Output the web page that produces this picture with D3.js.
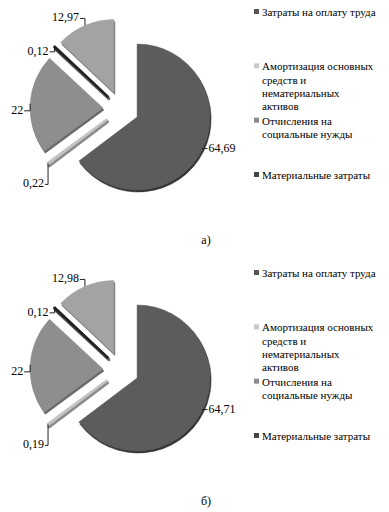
<!DOCTYPE html>
<html>
<head>
<meta charset="utf-8">
<script src="https://cdnjs.cloudflare.com/ajax/libs/d3/7.8.5/d3.min.js"></script>
<style>
body { margin: 0; background: #fff; }
svg { display: block; }
text { font-family: "Liberation Serif", "Times New Roman", serif; font-size: 12px; fill: #000; }
.legend text { font-size: 11px; }
</style>
</head>
<body>
<svg class="chart"></svg>
<script>
var width = 389;
var height = 512;

// legend entries, line breaks as in the source (the fifth slice has no legend entry)
var categories = ["Затраты на оплату труда",
                  "Амортизация основных|средств и|нематериальных|активов",
                  "Отчисления на|социальные нужды",
                  "Материальные затраты"];

// slice values, clockwise from 12 o'clock
var valuesA = [64.69, 0.22, 22, 0.12, 12.97];
var valuesB = [64.71, 0.19, 22, 0.12, 12.98];
var captions = ["а)", "б)"];

// styles
var fills   = ["#5c5c5c", "#c4c4c4", "#8e8e8e", "#222222", "#a3a3a3"];
var shades  = ["#333333", "#8a8a8a", "#666666", "#6a6a6a", "#6e6e6e"];
var legendFills = ["#555555", "#c8c8c8", "#8a8a8a", "#444444"];

// label placement relative to the outer point of each slice: dx, dy, anchor
var labelNudge = [[6, -2, "start"], [-4, 20, "end"], [-7, 6, "end"], [-6, 4, "end"], [-6, -8, "end"]];

var radius = 73;
var explode = 18;

var svg = d3.select(".chart")
    .attr("width", width)
    .attr("height", height);

svg.append("rect").attr("width", width).attr("height", height).attr("fill", "#fff");

function fmt(v) { return String(v).replace(".", ","); }

function make_chart(values, caption, offsetY) {
    var g = svg.append("g").attr("transform", "translate(0," + offsetY + ")");
    var cx = 121, cy = 109;

    var pie = d3.pie().sort(null).value(function(d) { return d; });
    var arc = d3.arc().innerRadius(0).outerRadius(radius);
    var arcs = pie(values);

    function dir(d) {
        var a = (d.startAngle + d.endAngle) / 2;
        return [Math.sin(a), -Math.cos(a)];
    }

    var slices = g.selectAll(".slice")
        .data(arcs)
      .enter().append("g")
        .attr("class", "slice")
        .attr("transform", function(d) {
            var u = dir(d);
            return "translate(" + (cx + explode * u[0]) + "," + (cy + explode * u[1]) + ")";
        });

    // depth edge
    slices.append("path")
        .attr("transform", "translate(1,2)")
        .attr("d", arc)
        .attr("fill", function(d, i) { return shades[i]; })
        .attr("stroke", function(d, i) { return shades[i]; })
        .attr("stroke-width", function(d) { return d.data < 1 ? 3 : 0.5; })
        .attr("stroke-linejoin", "round");

    slices.append("path")
        .attr("d", arc)
        .attr("fill", function(d, i) { return fills[i]; })
        .attr("stroke", function(d, i) { return fills[i]; })
        .attr("stroke-width", function(d) { return d.data < 1 ? 2.5 : 0.5; })
        .attr("stroke-linejoin", "round");

    // data labels with leader lines
    arcs.forEach(function(d, i) {
        var u = dir(d);
        var px = cx + (explode + radius) * u[0];
        var py = cy + (explode + radius) * u[1];
        var n = labelNudge[i];
        var tx = px + n[0], ty = py + n[1];
        var edge = n[2] == "end" ? tx + 1 : tx - 1;
        g.append("polyline")
            .attr("points", [[px, py], [px, ty + 1], [edge, ty + 1]].join(" "))
            .attr("fill", "none")
            .attr("stroke", "#222")
            .attr("stroke-width", 1);
        g.append("text")
            .attr("x", tx)
            .attr("y", ty + 4)
            .attr("text-anchor", n[2])
            .text(fmt(d.data));
    });

    // legend
    var ly = d3.scaleLinear().domain([0, categories.length - 1]).range([12, 175]);
    var item = g.selectAll(".legend")
        .data(categories)
      .enter().append("g")
        .attr("class", "legend")
        .attr("transform", function(d, i) { return "translate(254," + ly(i) + ")"; });

    item.append("rect")
        .attr("x", 0).attr("y", -3)
        .attr("width", 5).attr("height", 5)
        .attr("fill", function(d, i) { return legendFills[i]; });

    item.append("text")
        .attr("y", 4)
      .selectAll("tspan")
        .data(function(d) { return d.split("|"); })
      .enter().append("tspan")
        .attr("x", 8)
        .attr("dy", function(d, i) { return i ? 13.3 : 0; })
        .text(function(d) { return d; });

    g.append("text")
        .attr("x", 206)
        .attr("y", 244)
        .attr("text-anchor", "middle")
        .text(caption);
}

make_chart(valuesA, captions[0], 0);
make_chart(valuesB, captions[1], 261);
</script>
</body>
</html>
